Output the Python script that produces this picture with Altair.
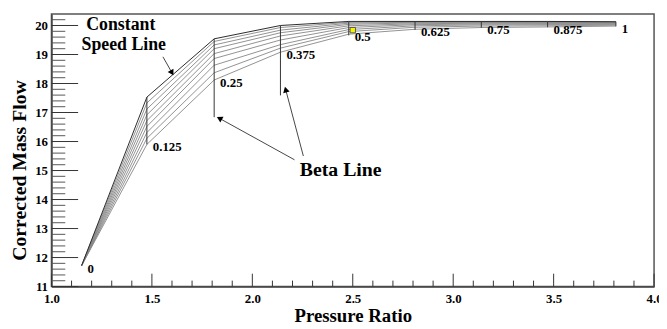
import math
import altair as alt
import pandas as pd

# ---------------- data ----------------
beta_labels = ["0", "0.125", "0.25", "0.375", "0.5", "0.625", "0.75", "0.875", "1"]
beta_x = [1.15, 1.475, 1.81, 2.14, 2.48, 2.81, 3.14, 3.47, 3.81]

speed_1 = [11.72, 17.53, 19.54, 20.00, 20.14, 20.14, 20.14, 20.14, 20.13]
speed_2 = [11.72, 17.33, 19.45, 19.93, 20.11, 20.13, 20.13, 20.13, 20.12]
speed_3 = [11.72, 17.12, 19.33, 19.84, 20.08, 20.11, 20.12, 20.12, 20.11]
speed_4 = [11.72, 16.92, 19.20, 19.75, 20.04, 20.09, 20.10, 20.10, 20.10]
speed_5 = [11.72, 16.72, 19.03, 19.64, 19.99, 20.06, 20.08, 20.08, 20.08]
speed_6 = [11.72, 16.52, 18.86, 19.50, 19.93, 20.03, 20.05, 20.06, 20.06]
speed_7 = [11.72, 16.31, 18.63, 19.34, 19.86, 19.99, 20.02, 20.03, 20.04]
speed_8 = [11.72, 16.11, 18.37, 19.22, 19.79, 19.94, 19.98, 19.99, 20.01]
speed_9 = [11.72, 15.90, 18.12, 19.08, 19.70, 19.87, 19.93, 19.95, 19.98]

beta_line_bottom = [11.72, 15.90, 16.84, 17.59, 19.66, 19.85, 19.92, 19.94, 19.97]

marker_x = [2.50]
marker_y = [19.84]

ann_text = ["Constant", "Speed Line", "Beta Line"]
ann_x = [1.345, 1.36, 2.44]
ann_y = [20.01, 19.33, 15.03]
ann_size = [18, 18, 20]

arrow_tail_x = [1.555, 2.21, 2.254]
arrow_tail_y = [18.92, 15.37, 15.50]
arrow_head_x = [1.600, 1.836, 2.166]
arrow_head_y = [18.37, 16.80, 17.79]

x_major_ticks = [1.0, 1.5, 2.0, 2.5, 3.0, 3.5, 4.0]
x_minor_ticks = [1.1, 1.2, 1.3, 1.4, 1.6, 1.7, 1.8, 1.9, 2.1, 2.2, 2.3, 2.4,
                 2.6, 2.7, 2.8, 2.9, 3.1, 3.2, 3.3, 3.4, 3.6, 3.7, 3.8, 3.9]
y_major_ticks = [11, 12, 13, 14, 15, 16, 17, 18, 19, 20]
y_minor_ticks = [11.2, 11.4, 11.6, 11.8, 12.2, 12.4, 12.6, 12.8, 13.2, 13.4, 13.6, 13.8,
                 14.2, 14.4, 14.6, 14.8, 15.2, 15.4, 15.6, 15.8, 16.2, 16.4, 16.6, 16.8,
                 17.2, 17.4, 17.6, 17.8, 18.2, 18.4, 18.6, 18.8, 19.2, 19.4, 19.6, 19.8,
                 20.2]

# ---------------- layout ----------------
W, H = 610, 276
X_DOM = [1.0, 4.0]
Y_DOM = [11.0, 20.4]
FONT = "Liberation Serif"

speeds = [speed_1, speed_2, speed_3, speed_4, speed_5, speed_6, speed_7, speed_8, speed_9]
rows = []
for i, s in enumerate(speeds):
    for j, v in enumerate(s):
        rows.append({"speed": i + 1, "order": j, "x": beta_x[j], "y": v})
lines_df = pd.DataFrame(rows)

beta_df = pd.DataFrame({
    "label": beta_labels, "x": beta_x,
    "top": speed_1, "bottom": beta_line_bottom, "low": speed_9,
})

xscale = alt.Scale(domain=X_DOM, nice=False, zero=False)
yscale = alt.Scale(domain=Y_DOM, nice=False, zero=False)
xaxis = alt.Axis(values=x_major_ticks, format=".1f", ticks=False, title="Pressure Ratio",
                 labelPadding=6, titlePadding=1, labelFlush=False, titleFontSize=19)
yaxis = alt.Axis(values=y_major_ticks, format="d", ticks=False, title="Corrected Mass Flow",
                 labelPadding=4, titlePadding=5, titleFontSize=20, titleY=158)


def X(field="x"):
    return alt.X(f"{field}:Q", scale=xscale, axis=xaxis)


def Y(field="y"):
    return alt.Y(f"{field}:Q", scale=yscale, axis=yaxis)


gray_lines = alt.Chart(lines_df).transform_filter("datum.speed > 1").mark_line(
    color="#858585", strokeWidth=0.9
).encode(x=X(), y=Y(), detail="speed:N", order="order:Q")

top_line = alt.Chart(lines_df).transform_filter("datum.speed == 1").mark_line(
    color="#2a2a2a", strokeWidth=1.0
).encode(x=X(), y=Y(), order="order:Q")

beta_rules = alt.Chart(beta_df).transform_filter("datum.x > 1.2").mark_rule(
    color="#333333", strokeWidth=1.0
).encode(x=X(), y=Y("top"), y2="bottom:Q")

beta_text = alt.Chart(beta_df).mark_text(
    align="left", baseline="middle", dx=6, dy=3, font=FONT, fontWeight="bold",
    fontSize=13, color="black"
).encode(x=X(), y=Y("low"), text="label:N")

marker = alt.Chart(pd.DataFrame({"x": marker_x, "y": marker_y})).mark_square(
    size=30, fill="#f5f500", stroke="#555555", strokeWidth=1, opacity=1
).encode(x=X(), y=Y())

ann = alt.Chart(pd.DataFrame({"t": ann_text, "x": ann_x, "y": ann_y, "s": ann_size})).mark_text(
    align="center", baseline="middle", font=FONT, fontWeight="bold", color="black"
).encode(x=X(), y=Y(), text="t:N", size=alt.Size("s:Q", scale=None, legend=None))

sx = W / (X_DOM[1] - X_DOM[0])
sy = H / (Y_DOM[1] - Y_DOM[0])
arrow_rows = []
head_rows = []
for k in range(len(arrow_tail_x)):
    arrow_rows.append({"id": k, "o": 0, "x": arrow_tail_x[k], "y": arrow_tail_y[k]})
    arrow_rows.append({"id": k, "o": 1, "x": arrow_head_x[k], "y": arrow_head_y[k]})
    dxp = (arrow_head_x[k] - arrow_tail_x[k]) * sx
    dyp = -(arrow_head_y[k] - arrow_tail_y[k]) * sy
    ang = math.degrees(math.atan2(dxp, -dyp)) % 360
    head_rows.append({"x": arrow_head_x[k], "y": arrow_head_y[k], "angle": ang})

arrow_lines = alt.Chart(pd.DataFrame(arrow_rows)).mark_line(
    color="#444444", strokeWidth=1.0
).encode(x=X(), y=Y(), detail="id:N", order="o:Q")

arrow_heads = alt.Chart(pd.DataFrame(head_rows)).mark_point(
    shape="triangle-up", filled=True, size=45, color="black", opacity=1
).encode(x=X(), y=Y(), angle=alt.Angle("angle:Q", scale=None))

xt_major = alt.Chart(pd.DataFrame({"x": x_major_ticks})).mark_rule(
    color="#333333", strokeWidth=1
).encode(x=X(), y=alt.value(H), y2=alt.value(H - 13))
xt_minor = alt.Chart(pd.DataFrame({"x": x_minor_ticks})).mark_rule(
    color="#333333", strokeWidth=1
).encode(x=X(), y=alt.value(H), y2=alt.value(H - 6))
yt_major = alt.Chart(pd.DataFrame({"y": y_major_ticks})).mark_rule(
    color="#333333", strokeWidth=1
).encode(y=Y(), x=alt.value(0), x2=alt.value(27))
yt_minor = alt.Chart(pd.DataFrame({"y": y_minor_ticks})).mark_rule(
    color="#555555", strokeWidth=1
).encode(y=Y(), x=alt.value(0), x2=alt.value(14))

chart = alt.layer(
    xt_major, xt_minor, yt_major, yt_minor,
    gray_lines, top_line, beta_rules, beta_text, marker,
    ann, arrow_lines, arrow_heads,
).properties(
    width=W, height=H,
    padding={"left": 44, "top": 4, "right": 5, "bottom": 40},
    autosize=alt.AutoSizeParams(type="none"),
    background="white",
).configure_view(
    stroke="#555555", strokeWidth=1.5
).configure_axis(
    grid=False, domainColor="#444444", domainWidth=1.5,
    labelFont=FONT, labelFontWeight="bold", labelFontSize=13, labelColor="black",
    titleFont=FONT, titleFontWeight="bold", titleColor="black",
)

chart.save("out.html", embed_options={"renderer": "svg", "actions": False})
